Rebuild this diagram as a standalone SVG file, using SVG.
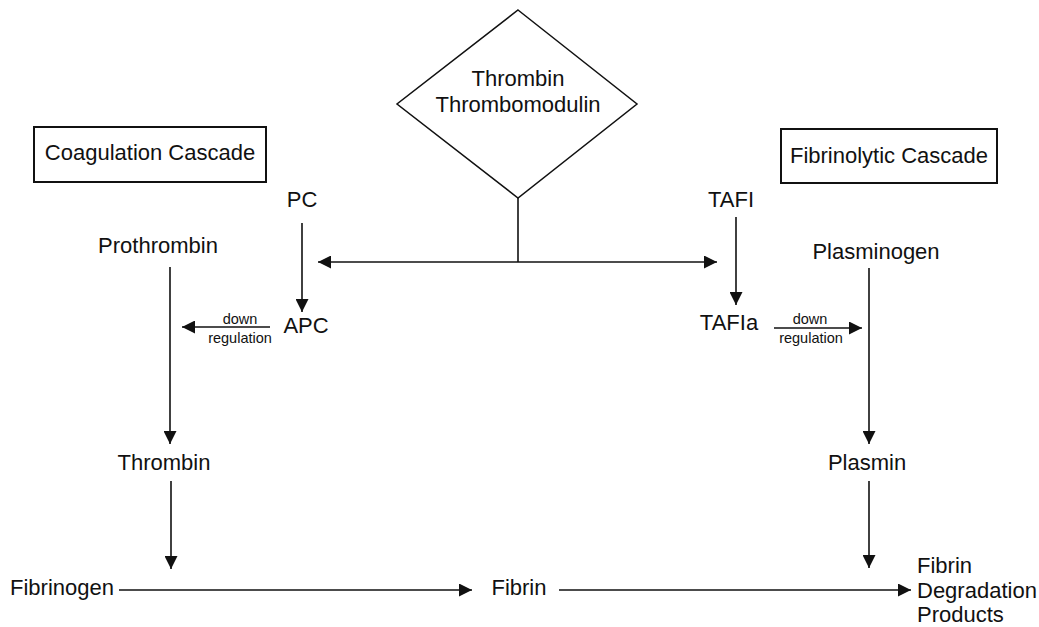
<svg xmlns="http://www.w3.org/2000/svg" width="1039" height="627" viewBox="0 0 1039 627">
<style>
text{font-family:"Liberation Sans",Arial,sans-serif;fill:#111;text-anchor:middle}
.t{font-size:22px}
.s{font-size:14.5px}
.l{text-anchor:start}
.ln{stroke:#111;stroke-width:1.6;fill:none}
.box{fill:#fff;stroke:#111;stroke-width:2}
</style>
<defs>
<marker id="ah" markerUnits="userSpaceOnUse" markerWidth="13" markerHeight="13" refX="12" refY="6" orient="auto-start-reverse" viewBox="0 0 12 12">
<path d="M0,0 L12,6 L0,12 z" fill="#111"/>
</marker>
</defs>
<rect width="1039" height="627" fill="#fff"/>
<g id="connectors">
<line class="ln" x1="518" y1="198" x2="518" y2="262"/>
<line class="ln" x1="318" y1="262" x2="717" y2="262" marker-start="url(#ah)" marker-end="url(#ah)"/>
<line class="ln" x1="302" y1="223" x2="302" y2="312" marker-end="url(#ah)"/>
<line class="ln" x1="736" y1="217" x2="736" y2="305" marker-end="url(#ah)"/>
<line class="ln" x1="270" y1="327" x2="182" y2="327" marker-end="url(#ah)"/>
<line class="ln" x1="774" y1="328" x2="862" y2="328" marker-end="url(#ah)"/>
<line class="ln" x1="170" y1="267" x2="170" y2="444" marker-end="url(#ah)"/>
<line class="ln" x1="869" y1="268" x2="869" y2="444" marker-end="url(#ah)"/>
<line class="ln" x1="171" y1="481" x2="171" y2="569" marker-end="url(#ah)"/>
<line class="ln" x1="869" y1="481" x2="869" y2="568" marker-end="url(#ah)"/>
<line class="ln" x1="119" y1="590" x2="472" y2="590" stroke-width="2" marker-end="url(#ah)"/>
<line class="ln" x1="559" y1="590" x2="911" y2="590" stroke-width="2" marker-end="url(#ah)"/>
</g>
<g id="thrombomodulin">
<polygon points="518,10 637,104 518,198 397,104" fill="#fff" stroke="#111" stroke-width="1.5"/>
<text class="t" x="518" y="86">Thrombin</text>
<text class="t" x="518" y="112">Thrombomodulin</text>
</g>
<g id="coag-box">
<rect class="box" x="34" y="127" width="232" height="55"/>
<text class="t" x="150" y="160">Coagulation Cascade</text>
</g>
<g id="fibrinolytic-box">
<rect class="box" x="781" y="129" width="216" height="54"/>
<text class="t" x="889" y="163">Fibrinolytic Cascade</text>
</g>
<g id="pc"><text class="t" x="302" y="207">PC</text></g>
<g id="apc"><text class="t" x="306" y="333">APC</text></g>
<g id="tafi"><text class="t" x="731" y="207">TAFI</text></g>
<g id="tafia"><text class="t" x="729" y="330">TAFIa</text></g>
<g id="down-left"><text class="s" x="240" y="324">down</text><text class="s" x="240" y="343">regulation</text></g>
<g id="down-right"><text class="s" x="810" y="324">down</text><text class="s" x="811" y="343">regulation</text></g>
<g id="prothrombin"><text class="t" x="158" y="253">Prothrombin</text></g>
<g id="plasminogen"><text class="t" x="876" y="259">Plasminogen</text></g>
<g id="thrombin"><text class="t" x="164" y="470">Thrombin</text></g>
<g id="plasmin"><text class="t" x="867" y="470">Plasmin</text></g>
<g id="fibrinogen"><text class="t" x="62" y="595">Fibrinogen</text></g>
<g id="fibrin"><text class="t" x="519" y="595">Fibrin</text></g>
<g id="fdp">
<text class="t l" x="917" y="573">Fibrin</text>
<text class="t l" x="917" y="598">Degradation</text>
<text class="t l" x="917" y="622">Products</text>
</g>
</svg>
